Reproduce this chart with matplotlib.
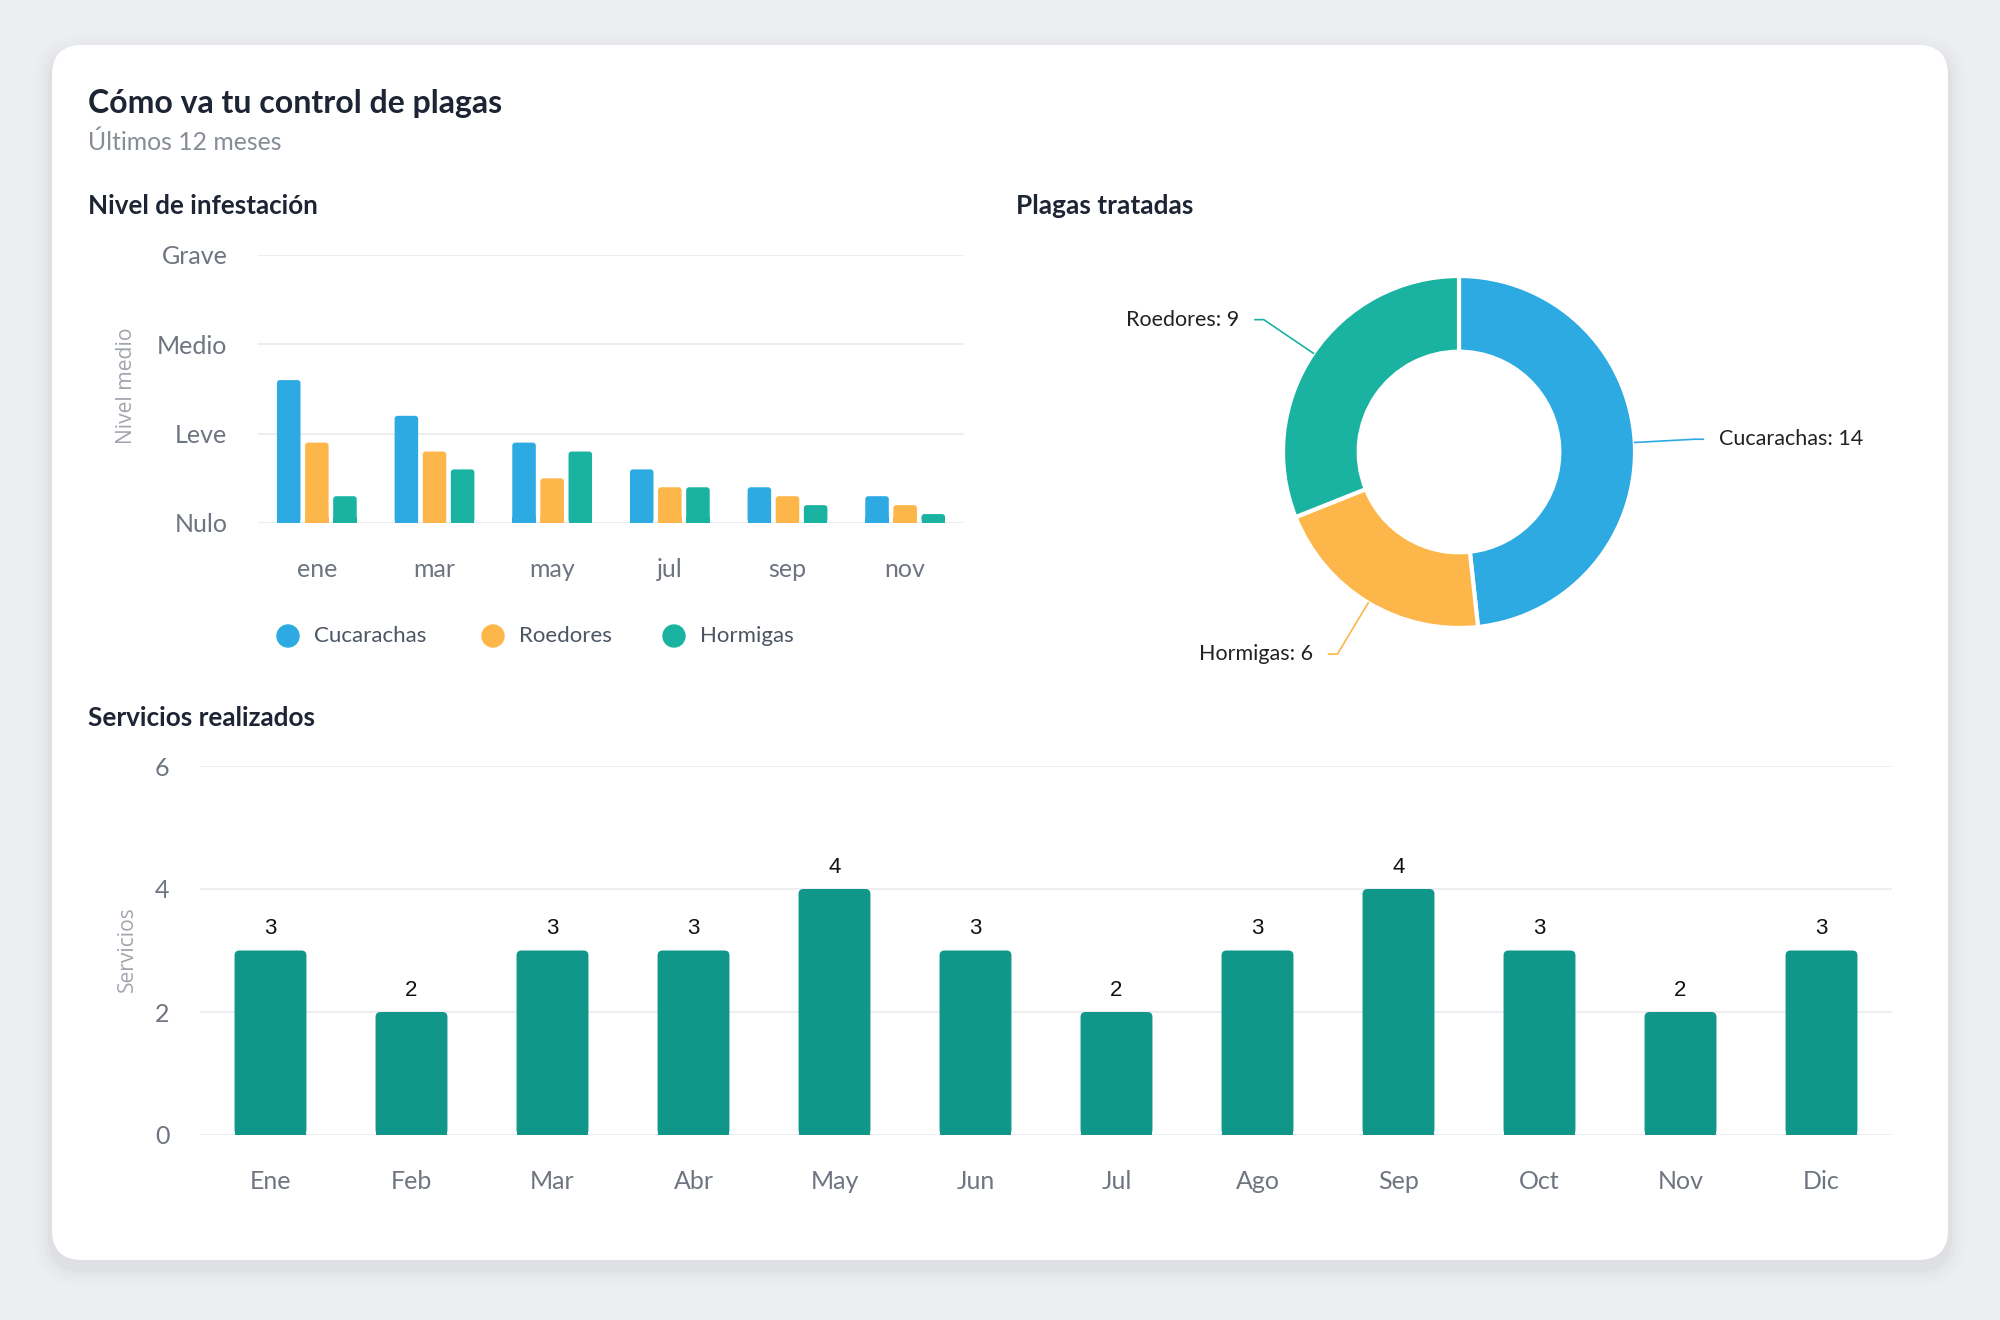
import numpy as np
import matplotlib.pyplot as plt
from matplotlib.patches import FancyBboxPatch, Circle, Rectangle

plt.rcParams['font.family'] = ['Lato', 'DejaVu Sans']

# nivel de infestacion (0 = Nulo ... 3 = Grave)
meses_nivel = ['ene', 'mar', 'may', 'jul', 'sep', 'nov']
niveles = ['Nulo', 'Leve', 'Medio', 'Grave']
cucarachas = [1.6, 1.2, 0.9, 0.6, 0.4, 0.3]
roedores = [0.9, 0.8, 0.5, 0.4, 0.3, 0.2]
hormigas = [0.3, 0.6, 0.8, 0.4, 0.2, 0.1]

# plagas tratadas (donut)
plagas = ['Cucarachas', 'Hormigas', 'Roedores']
plagas_total = [14, 6, 9]

# servicios realizados
meses = ['Ene', 'Feb', 'Mar', 'Abr', 'May', 'Jun', 'Jul', 'Ago', 'Sep', 'Oct', 'Nov', 'Dic']
servicios = [3, 2, 3, 3, 4, 3, 2, 3, 4, 3, 2, 3]

azul = '#2daae2'
naranja = '#fdb64a'
verde = '#1ab3a1'
verde_osc = '#11968a'
gris_tick = '#6e7580'
gris_grid = '#eceef1'
oscuro = '#1d2433'

W, H = 2000, 1320
fig = plt.figure(figsize=(20, 13.2), dpi=100)
fig.patch.set_facecolor('#eceef1')


def px(x0, y0, x1, y1):
    return [x0 / W, 1 - y1 / H, (x1 - x0) / W, (y1 - y0) / H]


def redondear(ax, bars, r_px):
    # esquinas superiores redondeadas
    (x0, y0), (x1, y1) = ax.transData.transform([(0, 0), (1, 1)])
    sx, sy = x1 - x0, y1 - y0
    for b in bars:
        x, y, w, h = b.get_x(), b.get_y(), b.get_width(), b.get_height()
        fc = b.get_facecolor()
        b.set_visible(False)
        ax.add_patch(FancyBboxPatch((x, y), w, h, boxstyle=f'round,pad=0,rounding_size={r_px / sx}',
                                    mutation_aspect=sx / sy, fc=fc, ec='none', zorder=2))
        ax.add_patch(Rectangle((x, y), w, min(h, 2 * r_px / sy), fc=fc, ec='none', zorder=2))


# fondo en pixeles
bg = fig.add_axes([0, 0, 1, 1])
bg.set_xlim(0, W)
bg.set_ylim(H, 0)
bg.axis('off')

for d, a in [(18, 0.008), (13, 0.012), (8, 0.016), (4, 0.02)]:
    bg.add_patch(FancyBboxPatch((52 - d, 45 - d + 8), 1896 + 2 * d, 1215 + 2 * d,
                                boxstyle=f'round,pad=0,rounding_size={30 + d}',
                                fc='black', ec='none', alpha=a))
bg.add_patch(FancyBboxPatch((52, 45), 1896, 1215, boxstyle='round,pad=0,rounding_size=30',
                            fc='white', ec='none'))

bg.text(88, 104, 'Cómo va tu control de plagas', fontsize=23, fontweight='bold',
        color=oscuro, va='center')
bg.text(88, 142, 'Últimos 12 meses', fontsize=17.8, color='#868d96', va='center')
bg.text(88, 206, 'Nivel de infestación', fontsize=18.7, fontweight='bold', color=oscuro, va='center')
bg.text(1016, 206, 'Plagas tratadas', fontsize=18.9, fontweight='bold', color=oscuro, va='center')
bg.text(88, 718, 'Servicios realizados', fontsize=18.8, fontweight='bold', color=oscuro, va='center')
bg.text(127, 386, 'Nivel medio', rotation=90, fontsize=15.2, color='#a0a5ad',
        family=['Open Sans', 'DejaVu Sans'], ha='center', va='center')
bg.text(127, 949, 'Servicios', rotation=90, fontsize=15.2, color='#a0a5ad',
        family=['Open Sans', 'DejaVu Sans'], ha='center', va='center')

# leyenda
for name, col, xm in [('Cucarachas', azul, 288), ('Roedores', naranja, 493), ('Hormigas', verde, 674)]:
    bg.add_patch(Circle((xm, 636), 11, color=col))
    bg.text(xm + 26, 636, name, fontsize=16, color='#4b5563', va='center')

# --- Nivel de infestacion
ax1 = fig.add_axes(px(258, 255, 964, 523))
ax1.set_xlim(-0.5, len(meses_nivel) - 0.5)
ax1.set_ylim(0, 3)
x = np.arange(len(meses_nivel))
for k, (vals, col) in enumerate([(cucarachas, azul), (roedores, naranja), (hormigas, verde)]):
    b = ax1.bar(x + (k - 1) * 0.239, vals, width=0.2, color=col, zorder=2)
    redondear(ax1, b, 3)
ax1.set_yticks(range(len(niveles)), niveles)
ax1.set_xticks(x, meses_nivel)
ax1.grid(axis='y', color=gris_grid, lw=1.5, zorder=0)
ax1.set_axisbelow(True)
for s in ax1.spines.values():
    s.set_visible(False)
ax1.tick_params(length=0, labelsize=18, labelcolor=gris_tick)
ax1.tick_params(axis='y', pad=22)
ax1.tick_params(axis='x', pad=25)
ax1.patch.set_alpha(0)

# --- Plagas tratadas
s = 2.2
half = s * 176
ax2 = fig.add_axes(px(1459 - half, 452 - half, 1459 + half, 452 + half))
wedges, _ = ax2.pie(plagas_total, colors=[azul, naranja, verde], startangle=90, counterclock=False,
                    radius=1, wedgeprops=dict(width=0.43, edgecolor='white', linewidth=3))
ax2.set_xlim(-s, s)
ax2.set_ylim(-s, s)
ax2.axis('off')
for wdg, name, val in zip(wedges, plagas, plagas_total):
    ang = np.deg2rad((wdg.theta1 + wdg.theta2) / 2)
    d = np.array([np.cos(ang), np.sin(ang)])
    side = 1 if d[0] >= 0 else -1
    p1 = d * 1.34
    p2 = p1 + np.array([side * 0.05, 0])
    ax2.plot([d[0], p1[0], p2[0]], [d[1], p1[1], p2[1]], color=wdg.get_facecolor(), lw=1.2)
    ax2.text(p2[0] + side * 0.09, p2[1], f'{name}: {val}', ha='left' if side > 0 else 'right',
             va='center', fontsize=15.5, color='#222222')

# --- Servicios realizados
ax3 = fig.add_axes(px(200, 766, 1892, 1135))
ax3.set_xlim(-0.5, len(meses) - 0.5)
ax3.set_ylim(0, 6)
bars = ax3.bar(np.arange(len(meses)), servicios, width=0.51, color=verde_osc, zorder=2)
ax3.bar_label(bars, padding=8, fontsize=16, family=['Liberation Sans'], color='#111111')
redondear(ax3, bars, 5)
ax3.set_yticks([0, 2, 4, 6])
ax3.set_xticks(np.arange(len(meses)), meses)
ax3.grid(axis='y', color=gris_grid, lw=1.5, zorder=0)
ax3.set_axisbelow(True)
for s_ in ax3.spines.values():
    s_.set_visible(False)
ax3.tick_params(length=0, labelsize=18, labelcolor=gris_tick)
ax3.tick_params(axis='y', pad=22)
ax3.tick_params(axis='x', pad=25)
ax3.patch.set_alpha(0)

fig.savefig('out.png', dpi=100, facecolor=fig.get_facecolor())
